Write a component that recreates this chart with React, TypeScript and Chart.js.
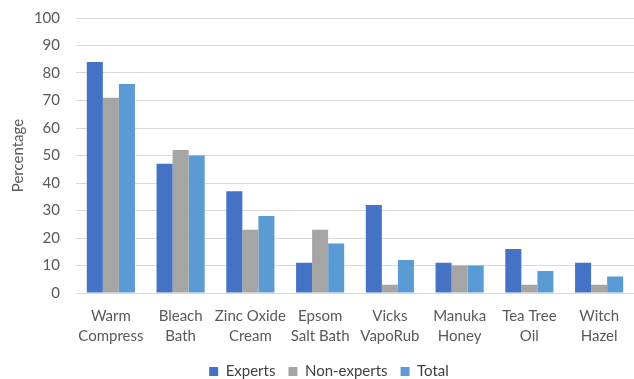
import React, { useEffect, useRef } from "react";
import { Chart, registerables } from "chart.js";

Chart.register(...registerables);

const categories: string[][] = [
  ["Warm", "Compress"],
  ["Bleach", "Bath"],
  ["Zinc Oxide", "Cream"],
  ["Epsom", "Salt Bath"],
  ["Vicks", "VapoRub"],
  ["Manuka", "Honey"],
  ["Tea Tree", "Oil"],
  ["Witch", "Hazel"],
];
const experts = [84, 47, 37, 11, 32, 11, 16, 11];
const nonExperts = [71, 52, 23, 23, 3, 10, 3, 3];
const total = [76, 50, 28, 18, 12, 10, 8, 6];

const FONT = "Lato, 'Open Sans', sans-serif";

const legendShift = {
  id: "legendShift",
  afterLayout(chart: any) {
    const lg = chart.legend;
    if (!lg) return;
    const dx = 12;
    const dy = 3;
    lg.left += dx;
    lg.right += dx;
    lg.top += dy;
    lg.bottom += dy;
    if (lg.legendHitBoxes) {
      lg.legendHitBoxes.forEach((h: any) => {
        h.left += dx;
        h.top += dy;
      });
    }
  },
};

export default function App() {
  const ref = useRef<HTMLCanvasElement>(null);
  useEffect(() => {
    if (!ref.current) return;
    const chart = new Chart(ref.current, {
      type: "bar",
      data: {
        labels: categories,
        datasets: [
          { label: "Experts", data: experts, backgroundColor: "#4472C4" },
          { label: "Non-experts", data: nonExperts, backgroundColor: "#A5A5A5" },
          { label: "Total", data: total, backgroundColor: "#5B9BD5" },
        ],
      },
      plugins: [legendShift],
      options: {
        animation: false,
        responsive: false,
        maintainAspectRatio: false,
        layout: { padding: { top: 18, right: 0, left: 0, bottom: 0 } },
        datasets: { bar: { barPercentage: 1, categoryPercentage: 0.69 } },
        plugins: {
          legend: {
            position: "bottom",
            maxHeight: 31,
            labels: {
              boxWidth: 9,
              boxHeight: 9,
              color: "#404040",
              font: { family: FONT, size: 15 },
              padding: 13,
            },
          },
          tooltip: { enabled: false },
        },
        scales: {
          x: {
            grid: { display: false },
            border: { color: "#D9D9D9" },
            ticks: {
              color: "#595959",
              font: { family: FONT, size: 15, lineHeight: 1.35 },
              maxRotation: 0,
              autoSkip: false,
              padding: 5,
            },
            afterFit: (s: any) => {
              s.height = 55;
            },
          },
          y: {
            min: 0,
            max: 100,
            ticks: { stepSize: 10, color: "#595959", font: { family: FONT, size: 15 }, padding: 16 },
            grid: { color: "#D9D9D9", drawTicks: false },
            border: { display: false },
            title: {
              display: true,
              text: "Percentage",
              color: "#595959",
              font: { family: FONT, size: 15 },
              padding: { top: 9, bottom: 0 },
            },
            afterFit: (s: any) => {
              s.width = 76;
              s.paddingTop = 0;
              s.paddingBottom = 0;
            },
          },
        },
      },
    });
    return () => chart.destroy();
  }, []);
  return (
    <div style={{ position: "fixed", left: 0, top: 0, width: 634, height: 379, background: "#fff" }}>
      <canvas ref={ref} width={634} height={379} />
    </div>
  );
}
